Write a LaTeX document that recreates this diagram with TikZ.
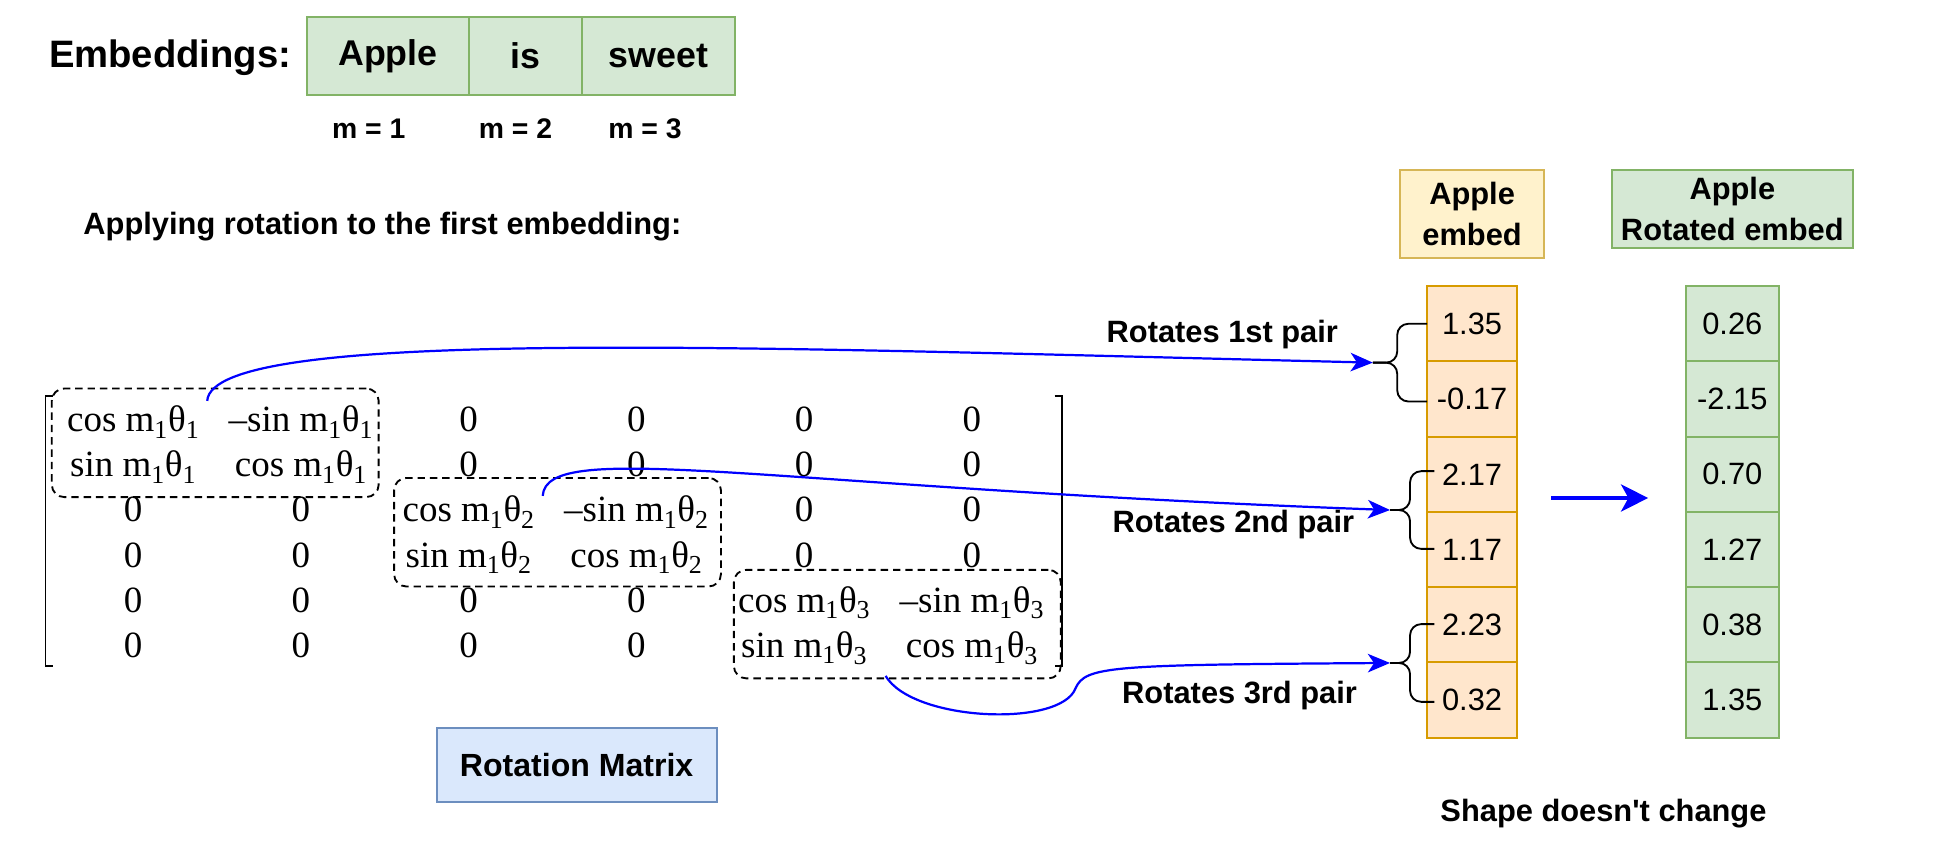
\documentclass[tikz,border=0pt]{standalone}
\usepackage{fontspec}
\newfontfamily\hel{Liberation Sans}
\newfontfamily\tms{Liberation Serif}
\usetikzlibrary{arrows.meta}
\definecolor{grnfill}{HTML}{D5E8D4}
\definecolor{grnline}{HTML}{82B366}
\definecolor{orgfill}{HTML}{FFE6CC}
\definecolor{orgline}{HTML}{D79B00}
\definecolor{ylwfill}{HTML}{FFF2CC}
\definecolor{ylwline}{HTML}{D6B656}
\definecolor{bluefill}{HTML}{DAE8FC}
\definecolor{blueline}{HTML}{6C8EBF}
\newcommand\mth[2]{#1 m\textsubscript{1}θ\textsubscript{#2}}
\tikzset{
  bold/.style={font=\hel\bfseries\fontsize{25}{33}\selectfont},
  tok/.style={draw=grnline,fill=grnfill,line width=1.5pt,minimum height=63pt,inner sep=0pt,outer sep=0pt,font=\hel\bfseries\fontsize{29}{34}\selectfont},
  ent/.style={inner sep=0pt,anchor=base,font=\tms\fontsize{30}{34}\selectfont},
  blk/.style={draw,dash pattern=on 6pt off 4pt,line width=1.5pt,rounded corners=10pt,minimum width=265pt,minimum height=88pt},
  ocell/.style={draw=orgline,fill=orgfill,line width=1.5pt,minimum width=73pt,minimum height=61pt,inner sep=0pt,font=\hel\fontsize{25}{30}\selectfont},
  gcell/.style={ocell,draw=grnline,fill=grnfill,minimum width=75pt},
  rot/.style={->,draw=blue,line width=1.8pt},
  pics/pbrace/.style={code={
    \draw[line width=1.5pt,rounded corners=9pt] (#1,-31.5) -- (#1*0.45,-31.5) -- (#1*0.45,0) -- (0,0);
    \draw[line width=1.5pt,rounded corners=9pt] (#1,31.5) -- (#1*0.45,31.5) -- (#1*0.45,0) -- (0,0);
    \coordinate (-tip) at (0,0);}}
}
\begin{document}
\begin{tikzpicture}[x=1pt,y=-1pt,>={Stealth[length=18pt,width=15pt,inset=5pt]}]
\useasboundingbox (0,0) rectangle (1568,699);
% tokens
\node[bold,font=\hel\bfseries\fontsize{31}{36}\selectfont] (ttl) at (138,47) {Embeddings:};
\node[tok,minimum width=131pt] (wA) at (314.5,45.5) {Apple};
\node[tok,minimum width=92pt,anchor=west] (wB) at (wA.east) {is};
\node[tok,minimum width=124pt,anchor=west] (wC) at (wB.east) {sweet};
\foreach \x/\m in {299/1,418/2,523/3}
  \node[bold,font=\hel\bfseries\fontsize{23}{28}\selectfont] (m\m) at (\x,104) {m = \m};
\node[bold] (ap) at (310,184) {Applying rotation to the first embedding:};

% rotation matrix
\draw[line width=1.2pt] (43,321) -- (37,321) -- (37,540) -- (43,540);
\draw[line width=1.2pt] (855,321) -- (861,321) -- (861,540) -- (855,540);
\foreach \r in {1,...,6}
  \foreach \c in {1,...,6}{
    \pgfmathtruncatemacro{\inblk}{int((\r+1)/2)==int((\c+1)/2)}
    \ifnum\inblk=0 \node[ent] (z\r\c) at ({108+136*(\c-1)},{350+36.6*(\r-1)}) {0};\fi
  }
\foreach \k/\x/\y in {1/108/350,2/380/423.2,3/652/496.4}{
  \node[ent] (a\k) at (\x,\y) {\mth{cos}{\k}};
  \node[ent] (b\k) at (\x+136,\y) {\mth{–sin}{\k}};
  \node[ent] (c\k) at (\x,\y+36.6) {\mth{sin}{\k}};
  \node[ent] (d\k) at (\x+136,\y+36.6) {\mth{cos}{\k}};
}
\node[blk] (k1) at (174.5,359) {};
\node[blk] (k2) at (452,431.5) {};
\node[blk] (k3) at (727.5,506) {};
\node[bold,draw=blueline,fill=bluefill,line width=1.5pt,minimum width=227pt,minimum height=60pt,font=\hel\bfseries\fontsize{26}{30}\selectfont] (rm) at (467.5,620) {Rotation Matrix};

% embedding columns
\node[bold,draw=ylwline,fill=ylwfill,line width=1.5pt,minimum width=117pt,minimum height=71pt,align=center,inner sep=0pt] (hE) at (1193.5,173.5) {Apple\\embed};
\node[bold,draw=grnline,fill=grnfill,line width=1.5pt,minimum width=195pt,minimum height=63pt,align=center,inner sep=0pt] (hR) at (1404.5,169.5) {Apple\\Rotated embed};
\foreach \v [count=\i] in {1.35,-0.17,2.17,1.17,2.23,0.32}
  \node[ocell] (e\i) at (1193.5,{201.5+61*\i}) {\v};
\foreach \v [count=\i] in {0.26,-2.15,0.70,1.27,0.38,1.35}
  \node[gcell] (r\i) at (1404.5,{201.5+61*\i}) {\v};
\pic (p1) at (1113,294) {pbrace=44};
\pic (p2) at (1127,413.5) {pbrace=36};
\pic (p3) at (1127,537.5) {pbrace=36};

% pair arrows
\coordinate (s1) at (168,325);
\coordinate (s2) at (440,402);
\coordinate (s3) at (718,548);
\draw[rot] (s1) .. controls (172,264) and (615,282) .. (p1-tip);
\draw[rot] (s2) .. controls (443,355) and (620,395) .. (p2-tip);
\draw[rot] (s3) .. controls (740,585) and (860,590) .. (872,558) .. controls (880,540) and (900,539) .. (p3-tip);
\node[bold] (l1) at (991,271) {Rotates 1st pair};
\node[bold] (l2) at (1000,425) {Rotates 2nd pair};
\node[bold] (l3) at (1005,564) {Rotates 3rd pair};
\draw[->,draw=blue,line width=3pt,>={Stealth[length=22pt,width=22pt,inset=6pt]}] ([xshift=27pt,yshift=12pt]e3.south east) -- ([xshift=-30pt,yshift=12pt]r3.south west);
\node[bold] (sd) at (1300,660) {Shape doesn\textquotesingle t change};
\end{tikzpicture}
\end{document}
